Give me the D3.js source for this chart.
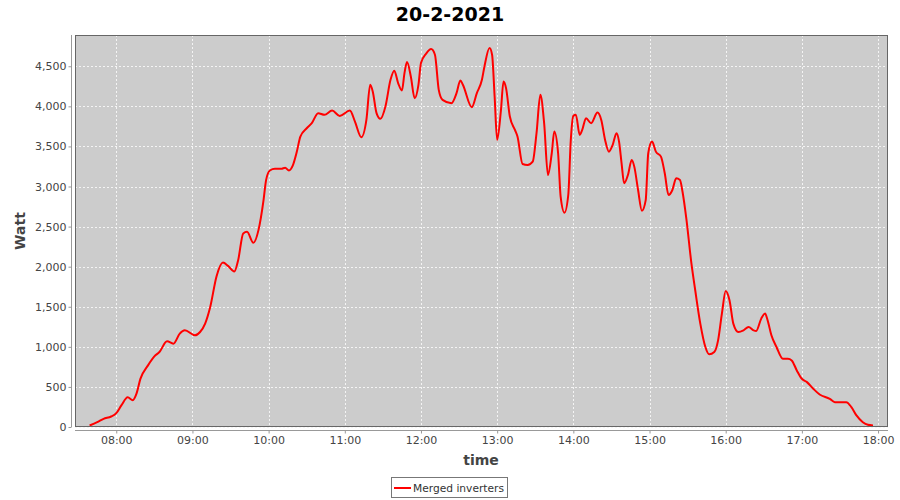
<!DOCTYPE html>
<html><head><meta charset="utf-8">
<script src="https://cdn.jsdelivr.net/npm/d3@7"></script>
<style>body{margin:0;background:#fff}svg{display:block}</style>
</head><body><svg id="c" width="900" height="500"></svg>
<script>
const title = "20-2-2021";
const seriesName = "Merged inverters";
const times = ["07:39","07:45","07:50","07:56","08:00","08:04","08:09","08:13","08:16","08:19","08:25","08:30","08:34","08:40","08:45","08:50","08:54","09:02","09:06","09:10","09:14","09:19","09:24","09:28","09:33","09:36","09:40","09:43","09:48","09:52","09:56","09:58","10:01","10:05","10:10","10:13","10:16","10:19","10:22","10:25","10:30","10:34","10:39","10:44","10:50","10:56","11:04","11:08","11:13","11:17","11:20","11:22","11:25","11:28","11:32","11:36","11:39","11:42","11:45","11:47","11:49","11:52","11:55","11:58","12:00","12:04","12:08","12:11","12:14","12:17","12:24","12:28","12:31","12:33","12:40","12:44","12:48","12:50","12:54","12:56","12:58","13:00","13:03","13:05","13:07","13:10","13:14","13:16","13:20","13:24","13:28","13:31","13:34","13:37","13:40","13:43","13:45","13:48","13:50","13:53","13:56","13:58","14:00","14:02","14:05","14:07","14:10","14:14","14:19","14:22","14:25","14:28","14:31","14:34","14:36","14:38","14:40","14:43","14:46","14:48","14:51","14:54","14:57","14:59","15:02","15:05","15:09","15:12","15:15","15:18","15:21","15:24","15:26","15:29","15:33","15:36","15:40","15:44","15:47","15:51","15:54","15:57","16:00","16:03","16:06","16:10","16:14","16:18","16:22","16:24","16:28","16:31","16:33","16:36","16:40","16:45","16:49","16:52","16:56","17:00","17:04","17:09","17:14","17:22","17:26","17:30","17:35","17:39","17:43","17:48","17:52","17:56"];
const watts = [19,60,102,131,173,269,370,335,420,600,769,881,935,1069,1040,1165,1206,1144,1185,1290,1497,1881,2052,2010,1940,2081,2415,2435,2298,2456,2831,3080,3200,3220,3220,3235,3200,3260,3420,3623,3727,3790,3915,3894,3948,3881,3948,3810,3615,3831,4269,4185,3915,3844,3998,4331,4444,4290,4198,4415,4553,4373,4102,4269,4540,4656,4715,4644,4206,4081,4040,4165,4323,4269,3990,4165,4331,4498,4727,4644,4123,3581,3956,4310,4227,3873,3706,3623,3281,3269,3310,3665,4144,3790,3144,3415,3685,3415,2873,2673,2894,3581,3881,3894,3644,3706,3852,3790,3923,3831,3581,3435,3519,3665,3560,3290,3040,3144,3331,3248,2956,2698,2831,3415,3560,3435,3373,3165,2894,2956,3102,3081,2935,2600,2040,1706,1290,998,906,935,1081,1415,1698,1581,1290,1185,1206,1248,1206,1198,1352,1415,1331,1144,998,852,852,831,706,602,560,477,406,352,310,310,310,248,144,60,27,19];
const yTicks = [0,500,1000,1500,2000,2500,3000,3500,4000,4500];
const xTickLabels = ["08:00","09:00","10:00","11:00","12:00","13:00","14:00","15:00","16:00","17:00","18:00"];
const xDomainLabels = ["07:27:30","18:07:50"];
const yMax = 4890;

const parseT = s => { const p = s.split(":").map(Number); return new Date(2021,1,20,p[0],p[1],p[2]||0); };
const data = times.map((t,i)=>({t:parseT(t), v:watts[i]}));

const L=75, R=888, T=35, B=427;
const svg = d3.select("#c");
const x = d3.scaleTime().domain(xDomainLabels.map(parseT)).range([L,R]);
const y = d3.scaleLinear().domain([0,yMax]).range([B,T]);

svg.append("text").attr("x",450).attr("y",21).attr("text-anchor","middle")
  .attr("font-family","DejaVu Sans").attr("font-weight","bold").attr("font-size",19).attr("fill","#000").text(title);

svg.append("rect").attr("x",L).attr("y",T).attr("width",R-L).attr("height",B-T).attr("fill","#cccccc");

const g = svg.append("g");
g.selectAll(".gy").data(yTicks).join("line").attr("x1",L).attr("x2",R)
  .attr("y1",d=>Math.round(y(d))+0.5).attr("y2",d=>Math.round(y(d))+0.5)
  .attr("stroke","#f4f4f4").attr("stroke-dasharray","2,2").attr("stroke-width",1);
const xt = xTickLabels.map(parseT);
g.selectAll(".gx").data(xt).join("line").attr("y1",T).attr("y2",B)
  .attr("x1",d=>Math.round(x(d))+0.5).attr("x2",d=>Math.round(x(d))+0.5)
  .attr("stroke","#f4f4f4").attr("stroke-dasharray","2,2").attr("stroke-width",1);

svg.append("path").datum(data).attr("fill","none").attr("stroke","#ff0000").attr("stroke-width",2)
  .attr("stroke-linejoin","round")
  .attr("d", d3.line().x(d=>x(d.t)).y(d=>y(d.v)).curve(d3.curveMonotoneX));

svg.append("rect").attr("x",L+0.5).attr("y",T+0.5).attr("width",R-L-1).attr("height",B-T-1)
  .attr("fill","none").attr("stroke","#666").attr("stroke-width",1);

// Y axis
const yAxis = svg.append("g").attr("transform","translate(71.5,0)")
  .call(d3.axisLeft(y).tickValues(yTicks).tickSize(3).tickSizeOuter(0).tickFormat(d3.format(",")));
yAxis.select(".domain").attr("stroke","#999").attr("d",`M0,${T}V${B}`);
yAxis.selectAll(".tick line").attr("stroke","#999");
yAxis.selectAll("text").attr("font-family","DejaVu Sans").attr("font-size",11).attr("fill","#444").attr("x",-5);

// X axis
const xAxis = svg.append("g").attr("transform","translate(0,430.5)")
  .call(d3.axisBottom(x).tickValues(xt).tickSize(3).tickSizeOuter(0).tickFormat(d3.timeFormat("%H:%M")));
xAxis.select(".domain").attr("stroke","#999").attr("d",`M${L},0H${R}`);
xAxis.selectAll(".tick line").attr("stroke","#999");
xAxis.selectAll("text").attr("font-family","DejaVu Sans").attr("font-size",11).attr("fill","#444").attr("y",6);

svg.append("text").attr("x",481).attr("y",465).attr("text-anchor","middle")
  .attr("font-family","DejaVu Sans").attr("font-weight","bold").attr("font-size",14).attr("fill","#444").text("time");
svg.append("text").attr("transform","translate(25,231) rotate(-90)").attr("text-anchor","middle")
  .attr("font-family","DejaVu Sans").attr("font-weight","bold").attr("font-size",14).attr("fill","#444").text("Watt");

// Legend
const lg = svg.append("g");
lg.append("rect").attr("x",391.5).attr("y",477.5).attr("width",116).attr("height",20).attr("fill","#fff").attr("stroke","#777");
lg.append("line").attr("x1",394).attr("x2",411).attr("y1",488).attr("y2",488).attr("stroke","#ff0000").attr("stroke-width",2);
lg.append("text").attr("x",413).attr("y",492).attr("font-family","DejaVu Sans").attr("font-size",11)
  .attr("textLength",91).attr("lengthAdjust","spacingAndGlyphs").attr("fill","#333").text(seriesName);
</script></body></html>
